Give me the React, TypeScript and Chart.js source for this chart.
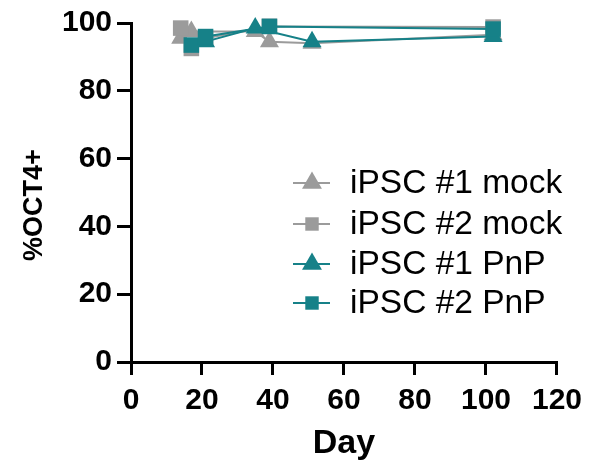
import React, { useEffect, useRef } from 'react';
import { Chart, registerables } from 'chart.js';
import { drawPoint } from 'chart.js/helpers';

Chart.register(...registerables);

const X_TICKS = [0, 20, 40, 60, 80, 100, 120];
const Y_TICKS = [0, 20, 40, 60, 80, 100];
const SERIES_LABELS = ['iPSC #1 mock', 'iPSC #2 mock', 'iPSC #1 PnP', 'iPSC #2 PnP'];
const X_TITLE = 'Day';
const Y_TITLE = '%OCT4+';

const DAYS_1_MOCK = [14, 17, 35, 39, 51, 102];
const VALS_1_MOCK = [95.5, 97.5, 97.5, 94.5, 94, 96.5];
const DAYS_2_MOCK = [14, 17, 21, 39, 102];
const VALS_2_MOCK = [98.5, 92.5, 95.5, 99, 98.8];
const DAYS_1_PNP = [21, 35, 51, 102];
const VALS_1_PNP = [94.5, 98.5, 94.5, 96];
const DAYS_2_PNP = [17, 21, 39, 102];
const VALS_2_PNP = [93.5, 96, 99, 98.2];

const GRAY = '#9b9b9b';
const TEAL = '#168188';
const FONT = "'Liberation Sans', Arial, sans-serif";

const toPts = (xs: number[], ys: number[]) => xs.map((x, i) => ({ x, y: ys[i] }));

const overlayPlugin = {
  id: 'overlay',
  afterDraw(chart: any) {
    const ctx = chart.ctx;
    // y-axis title
    ctx.save();
    ctx.translate(35, 205);
    ctx.rotate(-Math.PI / 2);
    ctx.fillStyle = '#000';
    ctx.font = `bold 27px ${FONT}`;
    ctx.textAlign = 'center';
    ctx.textBaseline = 'middle';
    ctx.fillText(Y_TITLE, 0, 0);
    ctx.restore();
    // legend
    const rows = [183, 224, 264, 303];
    chart.data.datasets.forEach((ds: any, i: number) => {
      const y = rows[i];
      ctx.save();
      ctx.strokeStyle = ds.borderColor;
      ctx.lineWidth = 2;
      ctx.beginPath();
      ctx.moveTo(293, y);
      ctx.lineTo(330, y);
      ctx.stroke();
      ctx.fillStyle = ds.backgroundColor;
      ctx.strokeStyle = ds.backgroundColor;
      drawPoint(ctx, { pointStyle: ds.pointStyle, radius: ds.pointStyle === 'triangle' ? 11.5 : 9.5, rotation: 0, borderWidth: 0 }, 312, y);
      ctx.fillStyle = '#000';
      ctx.font = `33.5px ${FONT}`;
      ctx.textBaseline = 'middle';
      ctx.textAlign = 'left';
      ctx.fillText(ds.label, 350, y + 1);
      ctx.restore();
    });
  },
};

function makeDataset(label: string, xs: number[], ys: number[], color: string, style: string, order: number) {
  return {
    label,
    data: toPts(xs, ys),
    order,
    borderColor: color,
    backgroundColor: color,
    borderWidth: 2,
    pointStyle: style,
    pointRadius: 11,
    pointHoverRadius: 11,
    pointBackgroundColor: color,
    pointBorderColor: color,
    pointBorderWidth: 0,
    tension: 0,
    clip: false as any,
  };
}

export default function App() {
  const ref = useRef<HTMLCanvasElement | null>(null);
  useEffect(() => {
    if (!ref.current) return;
    const chart = new Chart(ref.current, {
      type: 'line',
      data: {
        datasets: [
          makeDataset(SERIES_LABELS[0], DAYS_1_MOCK, VALS_1_MOCK, GRAY, 'triangle', 4),
          makeDataset(SERIES_LABELS[1], DAYS_2_MOCK, VALS_2_MOCK, GRAY, 'rect', 3),
          makeDataset(SERIES_LABELS[2], DAYS_1_PNP, VALS_1_PNP, TEAL, 'triangle', 2),
          makeDataset(SERIES_LABELS[3], DAYS_2_PNP, VALS_2_PNP, TEAL, 'rect', 1),
        ] as any,
      },
      options: {
        responsive: false,
        animation: false,
        devicePixelRatio: 1,
        layout: { padding: { top: 22, right: 30, left: 0, bottom: 0 } },
        plugins: { legend: { display: false }, tooltip: { enabled: false } },
        scales: {
          x: {
            type: 'linear',
            min: X_TICKS[0],
            max: X_TICKS[X_TICKS.length - 1],
            afterBuildTicks: (s: any) => { s.ticks = X_TICKS.map((v) => ({ value: v })); },
            afterFit: (s: any) => { s.height = 102; },
            grid: { display: true, drawOnChartArea: false, drawTicks: true, tickLength: 13, lineWidth: 3, color: '#000', tickColor: '#000' },
            border: { display: true, color: '#000', width: 3 },
            ticks: { color: '#000', padding: 8, font: { family: FONT, size: 30, weight: 'bold' }, maxRotation: 0, autoSkip: false },
            title: { display: true, text: X_TITLE, color: '#000', font: { family: FONT, size: 34, weight: 'bold' }, padding: { top: 0, bottom: 0 } },
          },
          y: {
            type: 'linear',
            min: Y_TICKS[0],
            max: Y_TICKS[Y_TICKS.length - 1],
            afterBuildTicks: (s: any) => { s.ticks = Y_TICKS.map((v) => ({ value: v })); },
            afterFit: (s: any) => { s.width = 131; },
            grid: { display: true, drawOnChartArea: false, drawTicks: true, tickLength: 14, lineWidth: 3, color: '#000', tickColor: '#000' },
            border: { display: true, color: '#000', width: 3 },
            ticks: { color: '#000', padding: 5, font: { family: FONT, size: 30, weight: 'bold' }, autoSkip: false },
            title: { display: false },
          },
        },
      },
      plugins: [overlayPlugin],
    } as any);
    return () => chart.destroy();
  }, []);
  return (
    <div style={{ position: 'absolute', left: 0, top: 0, width: 590, height: 464 }}>
      <canvas ref={ref} width={590} height={464} />
    </div>
  );
}
